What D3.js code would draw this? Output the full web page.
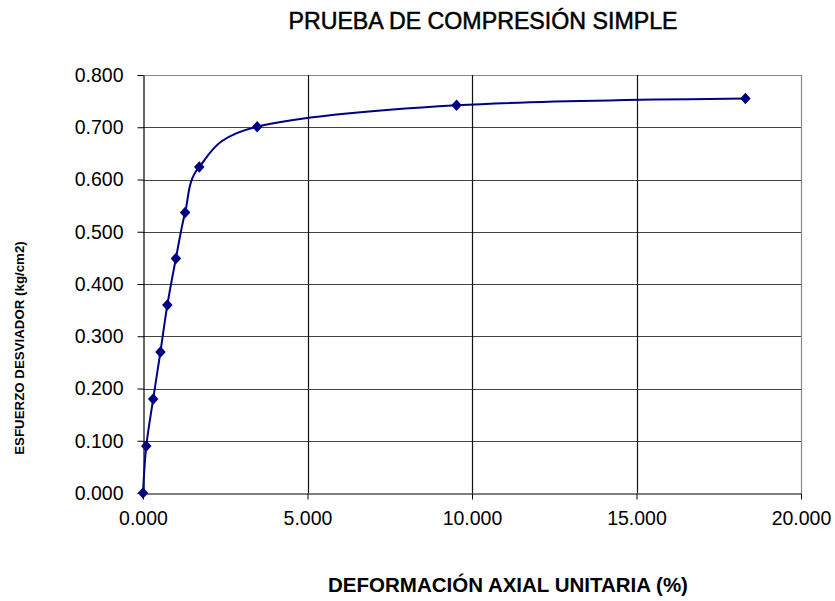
<!DOCTYPE html>
<html>
<head>
<meta charset="utf-8">
<script src="https://cdn.jsdelivr.net/npm/d3@7"></script>
<style>
  body { margin: 0; background: #fff; }
  text { font-family: "Liberation Sans", Arial, sans-serif; }
</style>
</head>
<body>
<div id="chart"></div>
<script>
// deformación axial unitaria (%) vs esfuerzo desviador (kg/cm2)
var deformacion = [0, 0.10, 0.31, 0.53, 0.74, 1.00, 1.28, 1.71, 3.47, 9.53, 18.31];
var esfuerzo    = [0, 0.090, 0.180, 0.270, 0.360, 0.449, 0.537, 0.624, 0.701, 0.742, 0.755];
var xTicks = [0, 5, 10, 15, 20];
var yTicks = [0, 0.1, 0.2, 0.3, 0.4, 0.5, 0.6, 0.7, 0.8];

var W = 835, H = 601;
var plotLeft = 143, plotRight = 801, plotTop = 75, plotBottom = 493;

var svg = d3.select("#chart").append("svg")
    .attr("width", W).attr("height", H);

var x = d3.scaleLinear().domain([0, 20]).range([plotLeft, plotRight]);
var y = d3.scaleLinear().domain([0, 0.8]).range([plotBottom, plotTop]);

var fmt = d3.format(".3f");

// gridlines
svg.append("g").selectAll("line")
    .data(yTicks.slice(1))
    .enter().append("line")
    .attr("x1", plotLeft).attr("x2", plotRight)
    .attr("y1", d => Math.round(y(d)) + 0.5).attr("y2", d => Math.round(y(d)) + 0.5)
    .attr("stroke", d => d === 0.8 ? "#888" : "#444").attr("stroke-width", 1.2);

svg.append("g").selectAll("line")
    .data(xTicks.slice(1))
    .enter().append("line")
    .attr("x1", d => Math.round(x(d)) + 0.5).attr("x2", d => Math.round(x(d)) + 0.5)
    .attr("y1", plotTop).attr("y2", plotBottom)
    .attr("stroke", d => d === 20 ? "#888" : "#111").attr("stroke-width", 1.2);

// axes
var xAxis = svg.append("g")
    .attr("transform", "translate(0," + (plotBottom + 0.5) + ")")
    .call(d3.axisBottom(x).tickValues(xTicks).tickFormat(fmt).tickSize(6).tickSizeOuter(0));
var yAxis = svg.append("g")
    .attr("transform", "translate(" + (plotLeft + 0.5) + ",0)")
    .call(d3.axisLeft(y).tickValues(yTicks).tickFormat(fmt).tickSize(6).tickSizeOuter(0));

[xAxis, yAxis].forEach(function(a) {
    a.select(".domain").attr("stroke", "#000").attr("stroke-width", 1.2);
    a.selectAll(".tick line").attr("stroke", "#000");
    a.selectAll(".tick text")
        .attr("font-family", "Liberation Sans, Arial, sans-serif")
        .attr("font-size", 19.5).attr("fill", "#000");
});
xAxis.selectAll(".tick text").attr("y", 14).attr("dy", "0.9em");
yAxis.selectAll(".tick text").attr("x", -20);

// curve (smoothed like the spreadsheet line)
var pts = deformacion.map((d, i) => [d, esfuerzo[i]]);
var line = d3.line()
    .x(d => x(d[0])).y(d => y(d[1]))
    .curve(d3.curveCatmullRom.alpha(0));

svg.append("path")
    .datum(pts)
    .attr("d", line)
    .attr("fill", "none")
    .attr("stroke", "#000080")
    .attr("stroke-width", 2);

svg.append("g").selectAll("path")
    .data(pts)
    .enter().append("path")
    .attr("d", d3.symbol().type(d3.symbolDiamond2).size(70))
    .attr("transform", d => "translate(" + x(d[0]) + "," + y(d[1]) + ") scale(1,1.1)")
    .attr("fill", "#000080");

// titles
svg.append("text")
    .attr("x", 483).attr("y", 29)
    .attr("text-anchor", "middle")
    .attr("font-size", 23.2)
    .attr("stroke", "#000").attr("stroke-width", 0.5)
    .text("PRUEBA DE COMPRESIÓN SIMPLE");

svg.append("text")
    .attr("x", 508).attr("y", 592)
    .attr("text-anchor", "middle")
    .attr("font-size", 20.5).attr("font-weight", "bold")
    .text("DEFORMACIÓN AXIAL UNITARIA (%)");

svg.append("text")
    .attr("transform", "translate(24,348) rotate(-90)")
    .attr("text-anchor", "middle")
    .attr("font-size", 13.3).attr("font-weight", "bold")
    .text("ESFUERZO DESVIADOR (kg/cm2)");
</script>
</body>
</html>
